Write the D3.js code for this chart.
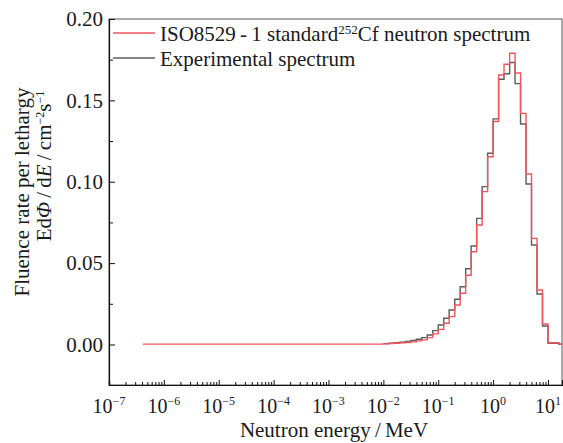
<!DOCTYPE html>
<html>
<head>
<meta charset="utf-8">
<script src="https://cdn.jsdelivr.net/npm/d3@7"></script>
<style>
  body { margin: 0; background: #fff; }
  text { font-family: "Liberation Serif", "Times New Roman", serif; fill: #1a1a1a; }
</style>
</head>
<body>
<svg id="chart" width="563" height="443"></svg>
<script>
// bin lower edges (MeV), last value is the upper edge of the last bin
var binEdges = [4.14e-7, 0.01, 0.0126, 0.0158, 0.02, 0.0251, 0.0316, 0.0398, 0.0501, 0.0631, 0.0794,
  0.1, 0.126, 0.158, 0.2, 0.251, 0.316, 0.398, 0.501, 0.631, 0.794,
  1, 1.26, 1.58, 2, 2.51, 3.16, 3.98, 5.01, 6.31, 7.94, 10, 15.8, 18];

// ISO 8529-1 252Cf spectrum, fluence rate per lethargy
var isoValues = [0.0002, 0.0004, 0.0006, 0.0008, 0.0010, 0.0012, 0.0016, 0.0022, 0.0028, 0.0042,
  0.0065, 0.0093, 0.0130, 0.0171, 0.0243, 0.0315, 0.0425, 0.0570, 0.0734, 0.0939,
  0.1154, 0.1370, 0.1656, 0.1722, 0.1790, 0.1668, 0.1420, 0.1048, 0.0652, 0.0335,
  0.0126, 0.0011, 0.0001];

// experimental spectrum (no value in the first, wide bin)
var expValues = [null, 0.0005, 0.0008, 0.0011, 0.0014, 0.0018, 0.0024, 0.0032, 0.0042, 0.0058,
  0.0085, 0.0120, 0.0161, 0.0212, 0.0278, 0.0355, 0.0465, 0.0605, 0.0775, 0.0970,
  0.1175, 0.1386, 0.1630, 0.1664, 0.1733, 0.1603, 0.1355, 0.0986, 0.0611, 0.0310,
  0.0114, 0.0008, 0.0001];

var xTickPowers = [-7, -6, -5, -4, -3, -2, -1, 0, 1];
var yTicks = [0, 0.05, 0.10, 0.15, 0.20];
var yMinorTicks = [0.025, 0.075, 0.125, 0.175];

var isoColor = '#f0565c';
var expColor = '#5c5c5c';

var plotLeft = 109, plotRight = 562, plotTop = 19, plotBottom = 385;
var svg = d3.select('#chart');

var x = d3.scaleLog().domain([1e-7, 18]).range([plotLeft, plotRight]);
var y = d3.scaleLinear().domain([-0.0249, 0.2]).range([plotBottom, plotTop]);

// minor ticks 2..9 in each decade
var xMinor = [];
xTickPowers.forEach(function(p) {
  for (var k = 2; k <= 9; k++) {
    var v = k * Math.pow(10, p);
    if (v < 18) xMinor.push(v);
  }
});

// frame
svg.append('rect')
  .attr('x', plotLeft).attr('y', plotTop)
  .attr('width', plotRight - plotLeft).attr('height', plotBottom - plotTop)
  .attr('fill', 'none').attr('stroke', '#555').attr('stroke-width', 1);

// x axis
svg.append('g')
  .attr('transform', 'translate(0,' + plotBottom + ')')
  .call(d3.axisBottom(x)
    .tickValues(xTickPowers.map(function(p) { return Math.pow(10, p) }))
    .tickSize(-5).tickFormat(''));

svg.append('g')
  .attr('transform', 'translate(0,' + plotBottom + ')')
  .call(d3.axisBottom(x).tickValues(xMinor).tickSize(-3).tickFormat(''));

svg.selectAll('.domain').attr('stroke', '#111').attr('stroke-width', 1.2);
svg.selectAll('.tick line').attr('stroke', '#111');

// x tick labels with superscripts
var xLabels = svg.append('g');
xTickPowers.forEach(function(p) {
  var t = xLabels.append('text')
    .attr('x', x(Math.pow(10, p)))
    .attr('y', 413)
    .attr('text-anchor', 'middle')
    .style('font-size', '20px');
  t.append('tspan').text('10');
  t.append('tspan').attr('dy', -8).style('font-size', '12px')
    .text(p < 0 ? '\u2212' + Math.abs(p) : String(p));
});

// y axis
svg.append('g')
  .attr('transform', 'translate(' + plotLeft + ',0)')
  .call(d3.axisLeft(y).tickValues(yTicks).tickSize(-6).tickPadding(6)
    .tickFormat(d3.format('.2f')))
  .call(function(g) {
    g.select('.domain').attr('stroke', '#111').attr('stroke-width', 1.2);
    g.selectAll('.tick line').attr('stroke', '#111');
    g.selectAll('.tick text').style('font-size', '21px').attr('fill', '#1a1a1a')
      .style('font-family', '"Liberation Serif", "Times New Roman", serif');
  });

svg.append('g')
  .attr('transform', 'translate(' + plotLeft + ',0)')
  .call(d3.axisLeft(y).tickValues(yMinorTicks).tickSize(-4).tickFormat(''))
  .call(function(g) {
    g.select('.domain').remove();
    g.selectAll('.tick line').attr('stroke', '#111');
  });

// step lines
function stepPoints(values) {
  var pts = [];
  values.forEach(function(v, i) {
    if (v !== null) pts.push([binEdges[i], v]);
  });
  var last = values.length - 1;
  pts.push([binEdges[last + 1], values[last]]);
  return pts;
}

var line = d3.line()
  .x(function(d) { return x(d[0]) })
  .y(function(d) { return y(d[1]) })
  .curve(d3.curveStepAfter);

svg.append('path')
  .datum(stepPoints(expValues))
  .attr('d', line)
  .attr('fill', 'none')
  .attr('stroke', expColor)
  .attr('stroke-width', 1.4);

svg.append('path')
  .datum(stepPoints(isoValues))
  .attr('d', line)
  .attr('fill', 'none')
  .attr('stroke', isoColor)
  .attr('stroke-width', 1.4);

// legend
var legend = svg.append('g');
legend.append('line').attr('x1', 113).attr('x2', 155).attr('y1', 33).attr('y2', 33)
  .attr('stroke', isoColor).attr('stroke-width', 1.4);
legend.append('line').attr('x1', 113).attr('x2', 155).attr('y1', 58).attr('y2', 58)
  .attr('stroke', expColor).attr('stroke-width', 1.4);

var l1 = legend.append('text').attr('x', 160).attr('y', 41).style('font-size', '21px');
l1.append('tspan').text('ISO8529\u2009-\u20091 standard');
l1.append('tspan').attr('dy', -7).style('font-size', '13px').text('252');
l1.append('tspan').attr('dy', 7).text('Cf neutron spectrum');

legend.append('text').attr('x', 160).attr('y', 66).style('font-size', '21px')
  .text('Experimental spectrum');

// axis titles
svg.append('text')
  .attr('transform', 'translate(29,192) rotate(-90)')
  .attr('text-anchor', 'middle')
  .style('font-size', '21px')
  .text('Fluence rate per lethargy');

var yt = svg.append('text')
  .attr('transform', 'translate(51,166) rotate(-90)')
  .attr('text-anchor', 'middle')
  .style('font-size', '21px');
yt.append('tspan').text('Ed');
yt.append('tspan').style('font-style', 'italic').text('\u03a6');
yt.append('tspan').text('\u2009/\u2009d');
yt.append('tspan').style('font-style', 'italic').text('E');
yt.append('tspan').text('\u2009/\u2009cm');
yt.append('tspan').attr('dy', -7).style('font-size', '12px').text('\u22122');
yt.append('tspan').attr('dy', 7).text('s');
yt.append('tspan').attr('dy', -7).style('font-size', '12px').text('\u22121');

svg.append('text')
  .attr('x', 334).attr('y', 437)
  .attr('text-anchor', 'middle')
  .style('font-size', '21px')
  .text('Neutron energy\u2009/\u2009MeV');
</script>
</body>
</html>
